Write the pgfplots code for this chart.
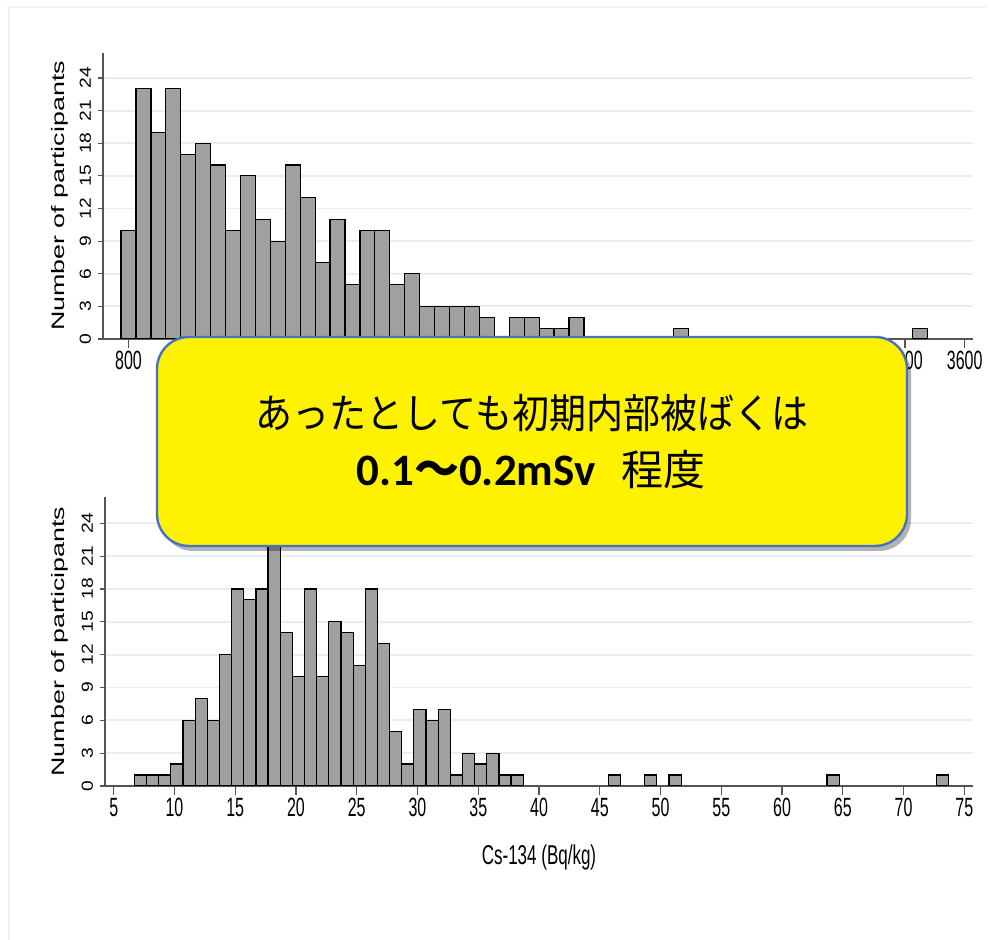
\documentclass[border=0pt]{standalone}
\usepackage{pgfplots}
\pgfplotsset{compat=1.18}
\usepackage{fontspec}
\setmainfont{Liberation Sans}
\newfontfamily\cjk{Noto Sans CJK JP}
\newfontfamily\calfont{Carlito}
\usetikzlibrary{shadows}

\definecolor{barfill}{RGB}{160,160,160}
\definecolor{gridc}{RGB}{230,238,241}
\definecolor{axc}{RGB}{85,85,85}
\definecolor{boxblue}{RGB}{68,114,196}
\definecolor{framec}{RGB}{236,243,243}

% tall narrow tick numbers, long y-axis texts
\newcommand\xtl[1]{\scalebox{1}[1.65]{#1}}
\newcommand\ytl[1]{\scalebox{1.2}[1]{#1}}

\pgfplotsset{
  histo/.style={
    anchor=south west, scale only axis,
    axis x line*=bottom, axis y line*=left,
    axis line style={draw=axc, line width=0.6pt},
    tick style={draw=axc, line width=0.6pt},
    tick align=outside,
    major tick length=2.5pt,
    xtick style={/pgfplots/major tick length=4.7pt},
    ymin=0,
    ytick={0,3,6,9,12,15,18,21,24},
    yticklabels={\ytl{0},\ytl{3},\ytl{6},\ytl{9},\ytl{12},\ytl{15},\ytl{18},\ytl{21},\ytl{24}},
    ymajorgrids,
    major grid style={draw=gridc, line width=0.9pt},
    yticklabel style={rotate=90, anchor=south, font=\fontsize{8}{9}\selectfont},
    xticklabel style={font=\fontsize{8}{9}\selectfont},
    every axis y label/.style={rotate=90, anchor=center, font=\fontsize{9}{10}\selectfont},
    ybar, bar shift=0pt,
  },
  bars/.style={fill=barfill, draw=black, line width=0.6pt, bar shift=0pt},
}

\begin{document}
\begin{tikzpicture}
\path[use as bounding box, fill=white] (0,0) rectangle (495pt,470pt);
% faint slide frame
\draw[framec, line width=1pt] (4.5pt,0) -- (4.5pt,466.7pt) -- (493pt,466.7pt);

% whole-body burden histogram
\begin{axis}[histo,
  at={(51.5pt,300.5pt)}, width=435pt, height=143pt,
  xmin=714.6, xmax=3628, ymax=26.3,
  bar width=50,
  xtick={800,1000,1200,1400,1600,1800,2000,2200,2400,2600,2800,3000,3200,3400,3600},
  xticklabels={\xtl{800},\xtl{1000},\xtl{1200},\xtl{1400},\xtl{1600},\xtl{1800},\xtl{2000},\xtl{2200},\xtl{2400},\xtl{2600},\xtl{2800},\xtl{3000},\xtl{3200},\xtl{3400},\xtl{3600}},
  ylabel={\scalebox{1.49}[1]{Number of participants}},
  ylabel style={at={(axis description cs:-0.0494,0.5)}},
]
\addplot[bars] coordinates {
  (800,10) (850,23) (900,19) (950,23) (1000,17) (1050,18) (1100,16)
  (1150,10) (1200,15) (1250,11) (1300,9) (1350,16) (1400,13) (1450,7)
  (1500,11) (1550,5) (1600,10) (1650,10) (1700,5) (1750,6) (1800,3)
  (1850,3) (1900,3) (1950,3) (2000,2) (2100,2) (2150,2) (2200,1)
  (2250,1) (2300,2) (2650,1) (3450,1)
};
\end{axis}

% Cs-134 histogram
\begin{axis}[histo,
  at={(52.5pt,77pt)}, width=434pt, height=144.5pt,
  xmin=4.28, xmax=75.72, ymax=26.4,
  bar width=1,
  xtick={5,10,...,75},
  xticklabels={\xtl{5},\xtl{10},\xtl{15},\xtl{20},\xtl{25},\xtl{30},\xtl{35},\xtl{40},\xtl{45},\xtl{50},\xtl{55},\xtl{60},\xtl{65},\xtl{70},\xtl{75}},
  ylabel={\scalebox{1.49}[1]{Number of participants}},
  ylabel style={at={(axis description cs:-0.0518,0.5)}},
  xlabel={\scalebox{1}[1.6]{Cs-134 (Bq/kg)}},
  xlabel style={at={(axis description cs:0.5,-0.249)}, anchor=center, font=\fontsize{8.5}{10}\selectfont},
]
\addplot[bars] coordinates {
  (7.2,1) (8.2,1) (9.2,1) (10.2,2) (11.2,6) (12.2,8) (13.2,6) (14.2,12)
  (15.2,18) (16.2,17) (17.2,18) (18.2,22) (19.2,14) (20.2,10) (21.2,18)
  (22.2,10) (23.2,15) (24.2,14) (25.2,11) (26.2,18) (27.2,13) (28.2,5)
  (29.2,2) (30.2,7) (31.2,6) (32.2,7) (33.2,1) (34.2,3) (35.2,2) (36.2,3)
  (37.2,1) (38.2,1) (46.2,1) (49.2,1) (51.2,1) (64.2,1) (73.2,1)
};
\end{axis}

% callout
\node[draw=boxblue, line width=1.2pt, fill=yellow, rounded corners=16pt,
      minimum width=375pt, minimum height=104.5pt, inner sep=0pt,
      drop shadow={shadow xshift=2pt, shadow yshift=-2.5pt, opacity=0.3, fill=black}]
  at (266pt,249.25pt) {};
\node[inner sep=0pt] at (266pt,263.3pt)
  {\scalebox{1}[1.1]{\cjk\fontsize{18.5}{22}\selectfont あったとしても初期内部被ばくは}};
\node[inner sep=0pt] at (265.5pt,235pt)
  {\fontsize{22.5}{26}\selectfont\calfont\bfseries 0.1{\cjk ～}0.2mSv\hspace{13pt}{\cjk\mdseries\fontsize{21}{24}\selectfont 程度}};
\end{tikzpicture}
\end{document}
